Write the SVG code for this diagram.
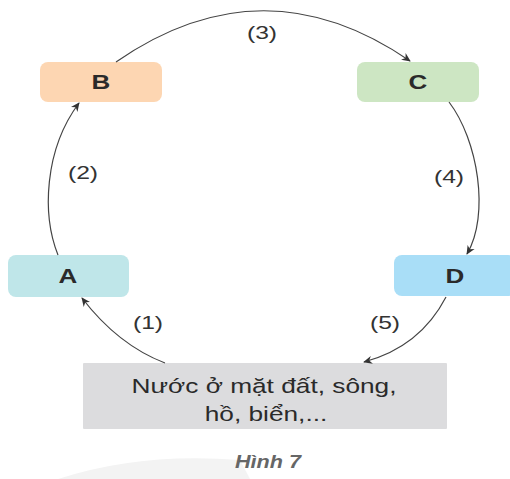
<svg xmlns="http://www.w3.org/2000/svg" width="510" height="479" viewBox="0 0 510 479">
<style>
.lbl{font-family:"Liberation Sans",Arial,sans-serif;font-size:20px;font-weight:bold;fill:#2a2a2a;text-anchor:middle}
.num{font-family:"Liberation Sans",Arial,sans-serif;font-size:19px;fill:#333;text-anchor:middle}
.main{font-family:"Liberation Sans",Arial,sans-serif;font-size:21px;fill:#2a2a2a;text-anchor:middle}
.cap{font-family:"Liberation Sans",Arial,sans-serif;font-size:18px;font-style:italic;font-weight:bold;fill:#666;text-anchor:middle}
.conn path{fill:none;stroke:#444;stroke-width:1.2;marker-end:url(#ah)}
</style>
<defs>
<marker id="ah" viewBox="0 0 10 10" refX="9" refY="5" markerWidth="9" markerHeight="9" markerUnits="userSpaceOnUse" orient="auto">
<path d="M0,0.5 L10,5 L0,9.5 L3,5 Z" fill="#333"/>
</marker>
</defs>
<rect width="510" height="479" fill="#fff"/>
<path d="M58 479 Q140 452 240 460 L250 479 Z" fill="#f3f3f3"/>
<g id="nodeA"><rect x="8" y="255" width="121" height="42" rx="8" fill="#bfe6e9"/><text class="lbl" transform="translate(68,283) scale(1.3,1)">A</text></g>
<g id="nodeB"><rect x="40" y="62" width="122" height="40" rx="8" fill="#fdd6b2"/><text class="lbl" transform="translate(101,89) scale(1.3,1)">B</text></g>
<g id="nodeC"><rect x="357" y="62" width="122" height="40" rx="8" fill="#cde6c3"/><text class="lbl" transform="translate(418,89) scale(1.3,1)">C</text></g>
<g id="nodeD"><rect x="394" y="255" width="122" height="41" rx="8" fill="#a9def7"/><text class="lbl" transform="translate(455,283) scale(1.3,1)">D</text></g>
<g id="nodeWater"><rect x="83" y="363" width="364" height="66" rx="1" fill="#dcdcde"/>
<text class="main" transform="translate(264,393) scale(1.25,1)">Nước ở mặt đất, sông,</text>
<text class="main" transform="translate(266,421) scale(1.25,1)">hồ, biển,...</text></g>
<g class="conn" id="connectors">
<path d="M165 363 Q118 345 82 298"/>
<path d="M58 255 C42 215 44 150 79 103"/>
<path d="M116 62 Q263 -40 410 61"/>
<path d="M449 102 C478 140 490 215 467 254"/>
<path d="M446 297 Q420 347 364 362"/>
</g>
<g id="labels">
<text class="num" transform="translate(262,39) scale(1.3,1)">(3)</text>
<text class="num" transform="translate(83,179) scale(1.3,1)">(2)</text>
<text class="num" transform="translate(449,183) scale(1.3,1)">(4)</text>
<text class="num" transform="translate(148,329) scale(1.3,1)">(1)</text>
<text class="num" transform="translate(385,329) scale(1.3,1)">(5)</text>
</g>
<text class="cap" transform="translate(268,468) scale(1.2,1)">Hình 7</text>
</svg>
